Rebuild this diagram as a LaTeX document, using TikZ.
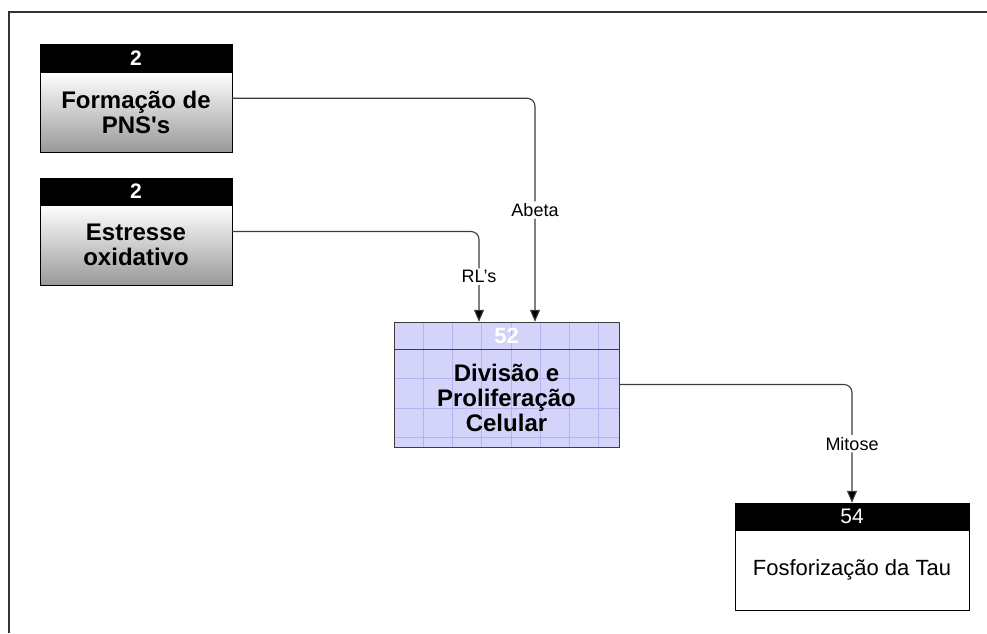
\documentclass[tikz,border=0pt]{standalone}
\usepackage{fontspec}
\setmainfont{Liberation Sans}
\usepackage{xcolor}
\definecolor{vizFill}{HTML}{D4D4FA}
\definecolor{vizGrid}{HTML}{B4B4F0}
\definecolor{vizLine}{HTML}{3C3C3C}
\usetikzlibrary{calc,arrows.meta}

\tikzset{
  hdr/.style={draw=black, fill=black, text=white, minimum height=27pt,
    inner sep=0pt, font=\fontsize{21}{24}\selectfont},
  shaded/.style={draw=black, top color=white, bottom color=black!40,
    minimum height=80pt, inner sep=0pt, align=center,
    font=\fontsize{24}{25}\selectfont\bfseries},
  plain/.style={draw=black, fill=white, minimum height=80pt, inner sep=0pt,
    align=center, font=\fontsize{22}{26}\selectfont},
  link/.style={draw=vizLine, line width=1.1pt, rounded corners=8pt,
    -{Triangle[length=12pt,width=10pt,fill=black]}},
  tag/.style={fill=white, inner sep=2pt, font=\fontsize{18}{20}\selectfont}
}

\begin{document}
\begin{tikzpicture}[x=1pt, y=-1pt]
  \useasboundingbox (0,0) rectangle (987,633);
  % frame
  \draw[black!80, line width=1.6pt] (9,633) -- (9,12) -- (987,12);

  % left boxes
  \node[hdr, minimum width=192pt, font=\fontsize{21}{24}\selectfont\bfseries] (hdrA) at (136,58) {2};
  \node[shaded, minimum width=192pt] (formacao) at (136,112) {Formação de\\PNS\textquotesingle s};
  \node[hdr, minimum width=192pt, font=\fontsize{21}{24}\selectfont\bfseries] (hdrB) at (136,191.5) {2};
  \node[shaded, minimum width=192pt] (estresse) at (136,245) {Estresse\\oxidativo};

  % middle box with grid
  \fill[vizFill] (394,322) rectangle (619,447);
  \begin{scope}
    \clip (394,322) rectangle (619,447);
    \foreach \i in {1,...,7} \draw[vizGrid, line width=0.5pt] (394+29.2*\i,322) -- (394+29.2*\i,447);
    \foreach \j in {1,...,3} \draw[vizGrid, line width=0.5pt] (394,349+29.5*\j) -- (619,349+29.5*\j);
  \end{scope}
  \node[draw=vizLine, minimum width=225pt, minimum height=27pt, inner sep=0pt,
    text=white, font=\fontsize{22}{24}\selectfont\bfseries] (hdrC) at (506.5,335.5) {52};
  \node[draw=vizLine, minimum width=225pt, minimum height=98pt, inner sep=0pt,
    align=center, font=\fontsize{24}{25}\selectfont\bfseries] (divisao) at (506.5,398)
    {Divisão e\\Proliferação\\Celular};

  % right box
  \node[hdr, minimum width=234pt] (hdrD) at (852,516.5) {54};
  \node[plain, minimum width=234pt] (fosfo) at (852,570) {Fosforização da Tau};

  % connectors
  \draw[link] ($(hdrA.north east)!0.5!(formacao.south east)$) -| ([xshift=28.5pt]hdrC.north)
    node[tag, pos=0.75] {Abeta};
  \draw[link] ($(hdrB.north east)!0.5!(estresse.south east)$) -| ([xshift=-27.5pt]hdrC.north)
    node[tag, pos=0.75] {RL’s};
  \draw[link] ($(hdrC.north east)!0.5!(divisao.south east)$) -| (hdrD.north)
    node[tag, pos=0.75] {Mitose};
\end{tikzpicture}
\end{document}
